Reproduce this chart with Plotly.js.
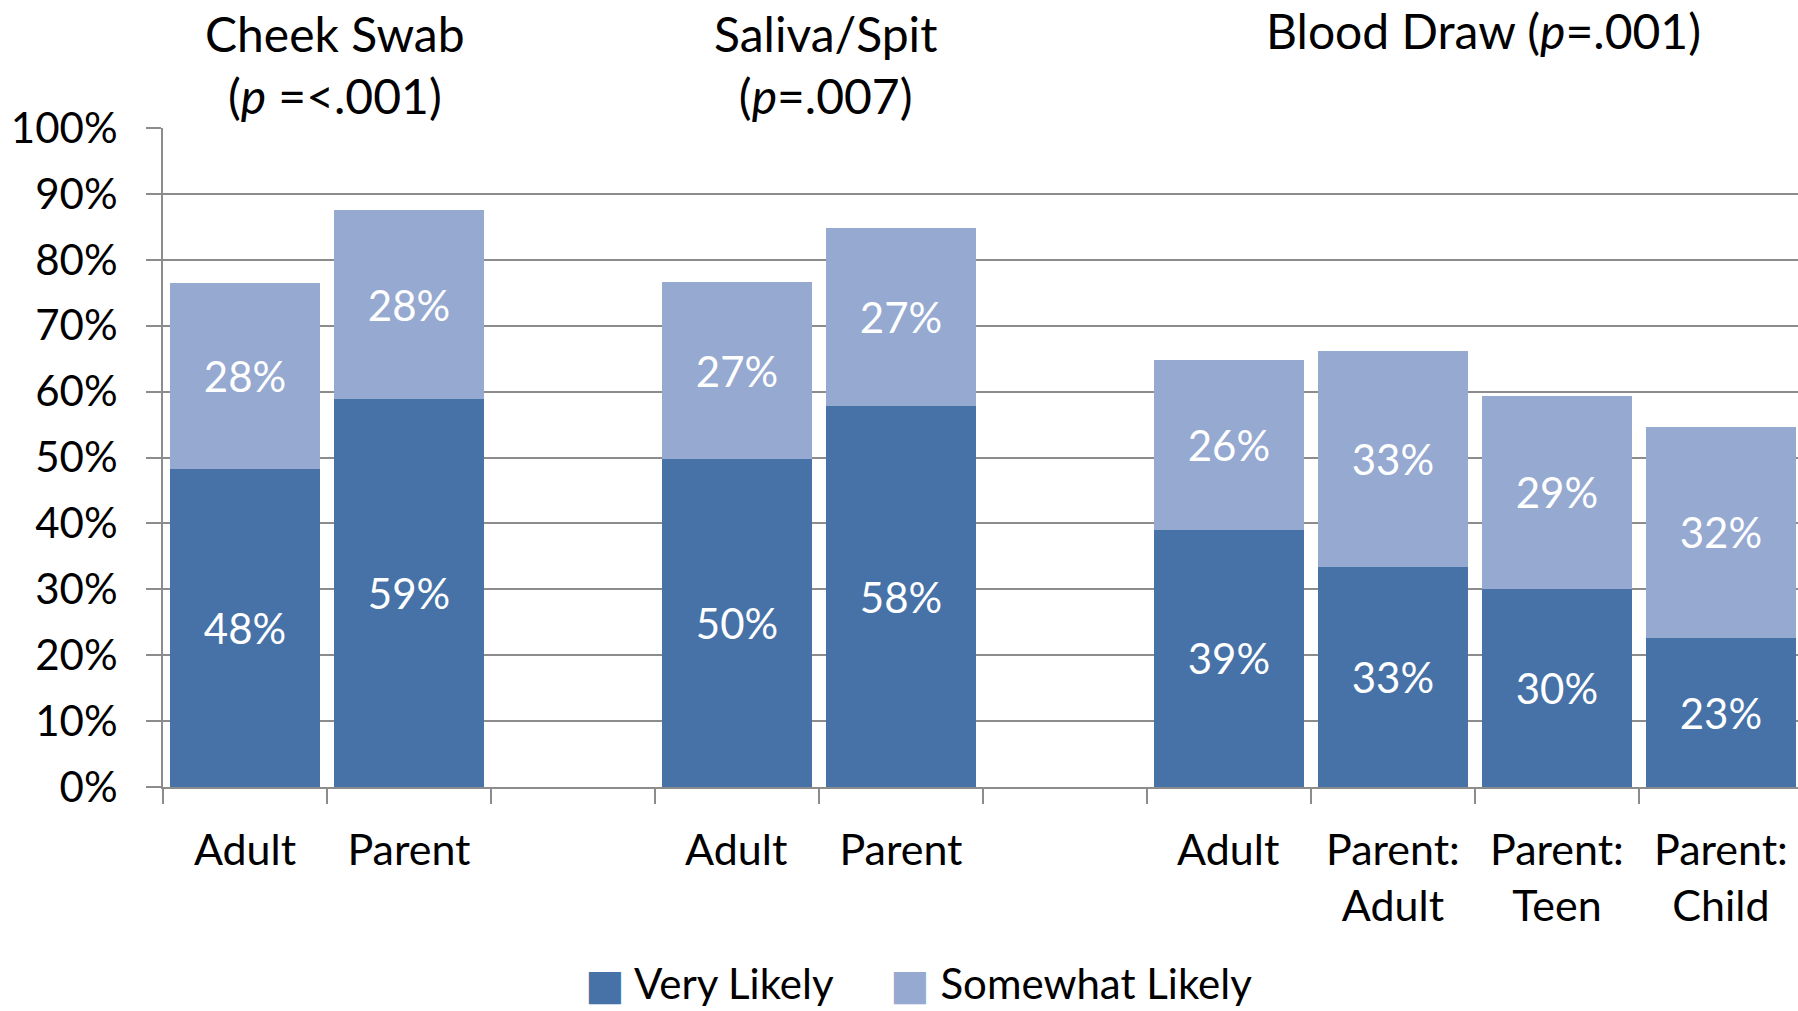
<!DOCTYPE html>
<html>
<head>
<meta charset="utf-8">
<script src="https://cdn.plot.ly/plotly-3.0.1.min.js"></script>
<style>
  html, body { margin: 0; padding: 0; background: #fff; }
  #chart { width: 1798px; height: 1011px; }
</style>
</head>
<body>
<div id="chart"></div>
<script>
// categories (blank slots separate the three sample types;
// padding spaces only keep the repeated names distinct)
const categories = ['Adult', 'Parent', ' ', ' Adult ', ' Parent ', '  ',
                    '  Adult  ', 'Parent:<br>Adult', 'Parent:<br>Teen', 'Parent:<br>Child'];

// values (fraction of respondents)
const veryLikely     = [0.483, 0.589, null, 0.497, 0.578, null, 0.390, 0.334, 0.301, 0.226];
const somewhatLikely = [0.282, 0.286, null, 0.270, 0.270, null, 0.258, 0.328, 0.293, 0.321];

// printed labels
const veryLabels     = ['48%', '59%', '', '50%', '58%', '', '39%', '33%', '30%', '23%'];
const somewhatLabels = ['28%', '28%', '', '27%', '27%', '', '26%', '33%', '29%', '32%'];

// group headers
const groupTitles = ['Cheek Swab<br>(<i>p</i> =<.001)', 'Saliva/Spit<br>(<i>p</i>=.007)', 'Blood Draw (<i>p</i>=.001)'];
const groupCenters = [0.55, 3.54, 7.55];

const seriesNames = ['Very Likely', 'Somewhat Likely'];

const darkBlue = '#4672A8';
const lightBlue = '#95A9D1';
const gridGray = '#8C8C8C';
const fontFamily = 'Lato, "Open Sans", sans-serif';

const trace1 = {
    type: 'bar',
    name: seriesNames[0],
    x: categories,
    y: veryLikely,
    text: veryLabels,
    textposition: 'inside',
    insidetextanchor: 'middle',
    textfont: { color: '#fff', size: 42, family: fontFamily },
    marker: { color: darkBlue },
    hoverinfo: 'none',
    showlegend: false
};

const trace2 = {
    type: 'bar',
    name: seriesNames[1],
    x: categories,
    y: somewhatLikely,
    text: somewhatLabels,
    textposition: 'inside',
    insidetextanchor: 'middle',
    textfont: { color: '#fff', size: 42, family: fontFamily },
    marker: { color: lightBlue },
    hoverinfo: 'none',
    showlegend: false
};

const annotations = groupTitles.map((t, i) => ({
    text: t,
    x: groupCenters[i],
    xref: 'x',
    y: i < 2 ? 1.096 : 1.1476,
    yref: 'paper',
    yanchor: 'middle',
    showarrow: false,
    font: { size: 48, color: '#000', family: fontFamily }
}));

// legend drawn as text with big square swatches, like the original
const legendX = [0.2569, 0.4434];
const legendColors = [darkBlue, lightBlue];
seriesNames.forEach((name, i) => {
    annotations.push({
        text: '<span style="font-family:\'DejaVu Sans\';color:' + legendColors[i] + '">■</span> ' + name,
        x: legendX[i],
        xref: 'paper',
        xanchor: 'left',
        y: -0.298,
        yref: 'paper',
        yanchor: 'middle',
        showarrow: false,
        font: { size: 42, color: '#000', family: fontFamily }
    });
});

const layout = {
    width: 1798,
    height: 1011,
    margin: { l: 163, r: 0, t: 128, b: 224 },
    paper_bgcolor: '#fff',
    plot_bgcolor: '#fff',
    barmode: 'stack',
    bargap: 0.09,
    font: { family: fontFamily, size: 42, color: '#000' },
    xaxis: {
        type: 'category',
        categoryorder: 'array',
        categoryarray: categories,
        range: [-0.5, 9.47],
        tickson: 'boundaries',
        ticks: 'outside',
        ticklen: 15,
        tickwidth: 2,
        tickcolor: gridGray,
        showline: true,
        linecolor: gridGray,
        linewidth: 2,
        showgrid: false,
        ticklabelstandoff: 24,
        tickfont: { size: 43 },
        fixedrange: true
    },
    yaxis: {
        range: [0, 1],
        dtick: 0.1,
        tickformat: '.0%',
        ticks: 'outside',
        ticklen: 15,
        tickwidth: 2,
        tickcolor: gridGray,
        showline: true,
        linecolor: gridGray,
        linewidth: 2,
        gridcolor: gridGray,
        gridwidth: 2,
        zeroline: false,
        ticklabelstandoff: 20,
        tickfont: { size: 42 },
        fixedrange: true
    },
    showlegend: false,
    annotations: annotations
};

Plotly.newPlot('chart', [trace1, trace2], layout, { displayModeBar: false, staticPlot: true });
</script>
</body>
</html>
